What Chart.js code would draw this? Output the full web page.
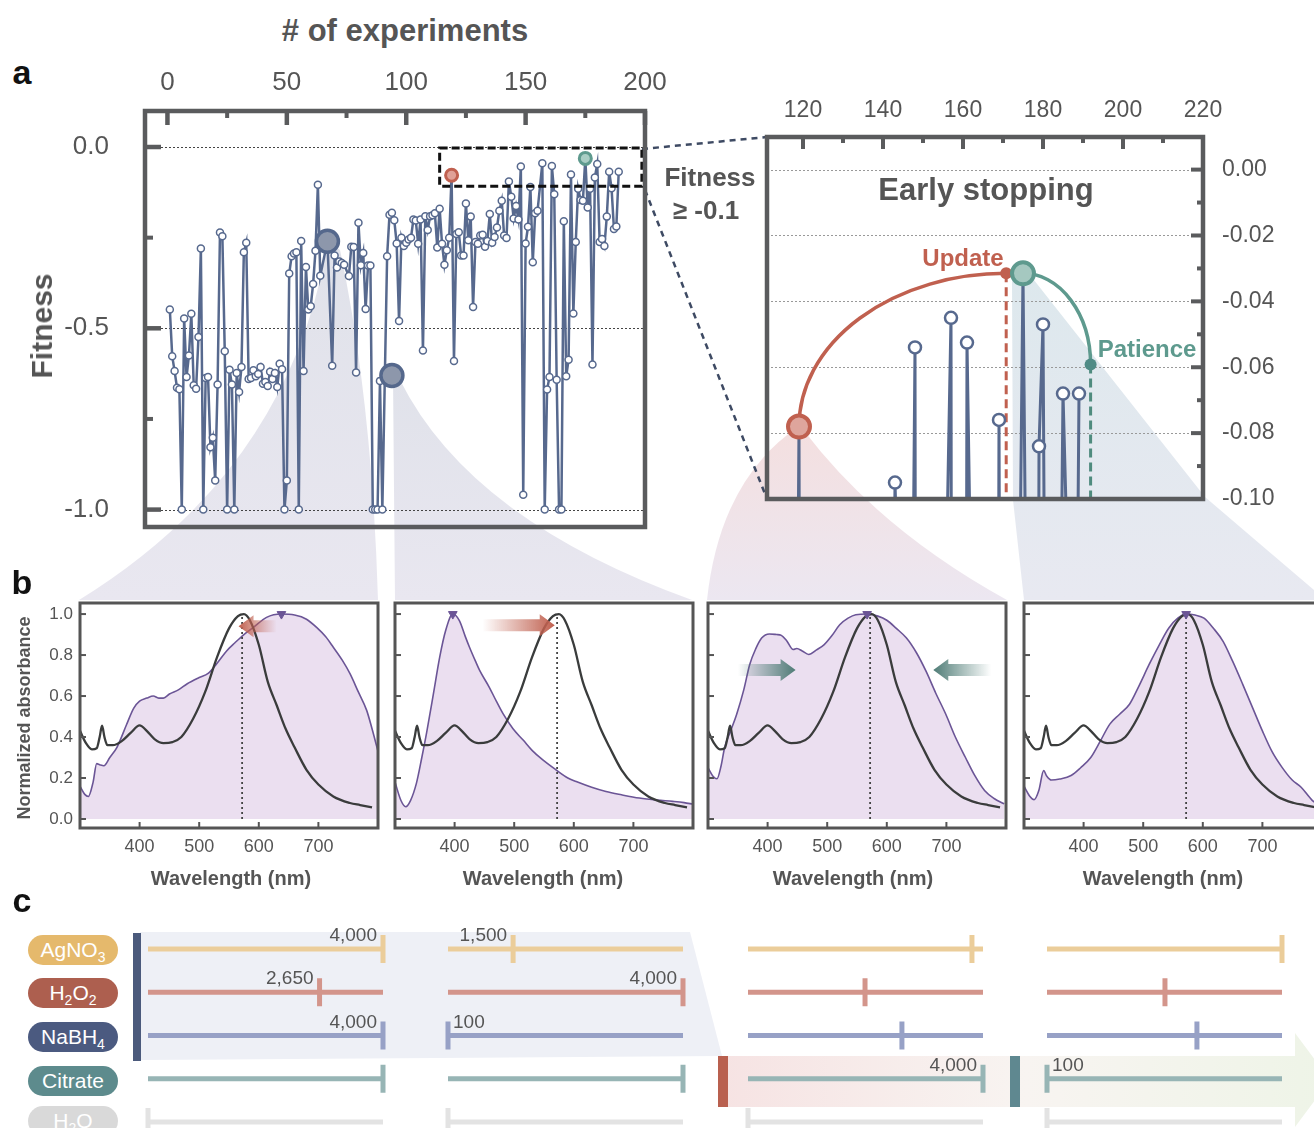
<!DOCTYPE html>
<html>
<head>
<meta charset="utf-8">
<script src="https://cdn.jsdelivr.net/npm/chart.js@4.4.1/dist/chart.umd.min.js"></script>
<style>
html, body { margin: 0; padding: 0; background: #fff; }
#page { position: relative; width: 1314px; height: 1128px; overflow: hidden; font-family: "Liberation Sans", Arial, sans-serif; color: #555; }
#page canvas { position: absolute; z-index: 2; }
#deco { position: absolute; left: 0; top: 0; z-index: 1; }
.t { position: absolute; white-space: nowrap; font-weight: bold; transform: translate(-50%, -50%); z-index: 5; }
.rot { transform: translate(-50%, -50%) rotate(-90deg); }
.pill { position: absolute; left: 28px; width: 90px; height: 30px; border-radius: 15px; color: #fff; font-size: 21px; text-align: center; line-height: 30px; z-index: 5; }
.pill sub { font-size: 14px; vertical-align: -5px; line-height: 0; }
</style>
</head>
<body>
<div id="page">
<svg id="deco" width="1314" height="1128">
  <defs>
    <linearGradient id="gGrey" x1="0" y1="0" x2="0" y2="1"><stop offset="0" stop-color="#e0e2ea"/><stop offset="1" stop-color="#e9e7f0"/></linearGradient>
    <linearGradient id="gRed" x1="0" y1="0" x2="0" y2="1"><stop offset="0" stop-color="#f4dfdf"/><stop offset="1" stop-color="#ece7f1"/></linearGradient>
    <linearGradient id="gTeal" x1="0" y1="0" x2="0" y2="1"><stop offset="0" stop-color="#dde8ed"/><stop offset="1" stop-color="#e8e9f1"/></linearGradient>
    <linearGradient id="gBand" x1="0" y1="0" x2="1" y2="0"><stop offset="0" stop-color="#f6e3e3"/><stop offset="0.5" stop-color="#f8f4f1"/><stop offset="1" stop-color="#eef4e7"/></linearGradient>
  </defs>
  <path d="M328,241 Q290,470 79,600 L378,600 Q372,400 340,250 Z" fill="url(#gGrey)"/>
  <path d="M393,376 L395,600 L692,600 Q470,520 400,380 Z" fill="url(#gGrey)"/>
  <path d="M798,427 Q720,480 707,600 L1007,600 Q880,530 805,432 Z" fill="url(#gRed)"/>
  <path d="M1012,280 L1013,500 L1024,600 L1314,600 L1314,590 L1205,497 L1030,275 Z" fill="url(#gTeal)"/>
  <line x1="642" y1="149" x2="767" y2="137" stroke="#3e4a63" stroke-width="2.5" stroke-dasharray="6,5"/>
  <line x1="645" y1="190" x2="767" y2="499" stroke="#3e4a63" stroke-width="2.5" stroke-dasharray="6,5"/>
  <polygon points="140,932 690,932 722,1056 140,1060" fill="#eef0f6"/>
  <polygon points="722,1056 1295,1056 1295,1033 1330,1080 1295,1127 1295,1107 722,1107" fill="url(#gBand)"/>
  <rect x="133" y="933" width="8" height="128" fill="#4b5a7c"/>
  <rect x="718" y="1056" width="10" height="51" fill="#b9604f"/>
  <rect x="1010" y="1056" width="10" height="51" fill="#5f8890"/>
</svg>

<div class="t" style="left:22px;top:72px;font-size:34px;color:#111">a</div>
<div class="t" style="left:22px;top:582px;font-size:34px;color:#111">b</div>
<div class="t" style="left:22px;top:900px;font-size:34px;color:#111">c</div>
<div class="t" style="left:405px;top:31px;font-size:31px"># of experiments</div>
<div class="t rot" style="left:42px;top:326px;font-size:30px">Fitness</div>
<div class="t" style="left:710px;top:177px;font-size:26px">Fitness</div>
<div class="t" style="left:706px;top:210px;font-size:26px">≥ -0.1</div>
<div class="t" style="left:986px;top:190px;font-size:31px">Early stopping</div>
<div class="t" style="left:963px;top:258px;font-size:24px;color:#c0604f">Update</div>
<div class="t" style="left:1147px;top:349px;font-size:24px;color:#5e9a8e">Patience</div>
<div class="t rot" style="left:24px;top:718px;font-size:18px">Normalized absorbance</div>
<div class="t" style="left:231px;top:878px;font-size:20px">Wavelength (nm)</div>
<div class="t" style="left:543px;top:878px;font-size:20px">Wavelength (nm)</div>
<div class="t" style="left:853px;top:878px;font-size:20px">Wavelength (nm)</div>
<div class="t" style="left:1163px;top:878px;font-size:20px">Wavelength (nm)</div>

<div class="pill" style="top:935px;background:#e5b96c">AgNO<sub>3</sub></div>
<div class="pill" style="top:978px;background:#ad5f4f">H<sub>2</sub>O<sub>2</sub></div>
<div class="pill" style="top:1022px;background:#4b5a80">NaBH<sub>4</sub></div>
<div class="pill" style="top:1066px;background:#5d8b8d">Citrate</div>
<div class="pill" style="top:1106px;background:#d9d9d9">H<sub>2</sub>O</div>
</div>

<script>
// ---- panel a: fitness per experiment ----
const experiments = [1,2,3,4,5,6,7,8,9,10,11,12,13,14,15,16,17,18,19,20,21,22,23,24,25,26,27,28,29,30,
  31,32,33,34,35,36,37,38,39,40,41,42,43,44,45,46,47,48,49,50,51,52,53,54,55,56,57,58,59,60,
  61,62,63,64,67,69,70,71,72,73,74,76,77,78,79,80,81,82,83,84,85,86,87,88,89,90,
  92,93,94,95,96,97,98,99,100,101,102,103,104,105,106,107,108,109,110,111,112,113,114,115,116,117,118,119,120,
  121,122,123,124,125,126,127,128,129,130,131,132,133,134,135,136,137,138,139,140,141,142,143,144,145,146,147,148,149,150,
  151,152,153,154,155,157,158,159,160,161,162,163,164,165,166,167,168,169,170,171,172,173,174,175,176,177,178,179,180,
  181,182,183,184,185,186,187,188,189];
const fitness = [-0.448,-0.577,-0.618,-0.664,-0.668,-1.0,-0.473,-0.634,-0.575,-0.46,-0.657,-0.667,-0.524,-0.28,-1.0,-0.637,-0.634,-0.828,-0.802,-0.92,-0.655,-0.236,-0.246,-0.563,-1.0,-0.614,-0.655,-1.0,-0.623,-0.676,
  -0.607,-0.29,-0.264,-0.64,-0.637,-0.616,-0.632,-0.626,-0.607,-0.653,-0.648,-0.659,-0.62,-0.64,-0.623,-0.662,-0.598,-0.613,-1.0,-0.92,-0.349,-0.301,-0.294,-0.29,-1.0,-0.259,-0.618,-0.331,-0.448,-0.439,
  -0.378,-0.286,-0.104,-0.355,-0.26,-0.603,-0.299,-0.332,-0.316,-0.32,-0.325,-0.356,-0.275,-0.276,-0.622,-0.209,-0.326,-0.292,-0.447,-0.327,-0.327,-1.0,-1.0,-1.0,-0.645,-1.0,
  -0.301,-0.187,-0.181,-0.202,-0.266,-0.48,-0.25,-0.273,-0.264,-0.255,-0.25,-0.2,-0.203,-0.267,-0.2,-0.561,-0.191,-0.229,-0.191,-0.188,-0.183,-0.277,-0.17,-0.267,-0.325,-0.285,-0.25,-0.078,-0.59,
  -0.24,-0.235,-0.299,-0.299,-0.156,-0.257,-0.192,-0.441,-0.262,-0.267,-0.244,-0.242,-0.275,-0.259,-0.185,-0.264,-0.248,-0.222,-0.176,-0.148,-0.244,-0.251,-0.095,-0.137,-0.197,-0.163,-0.2,-0.054,-0.959,-0.266,
  -0.22,-0.11,-0.318,-0.183,-0.176,-0.045,-1.0,-0.669,-0.634,-0.0525,-0.13,-0.642,-1.0,-1.0,-0.205,-0.632,-0.587,-0.076,-0.459,-0.262,-0.115,-0.146,-0.148,-0.0315,-0.167,-0.115,-0.6,-0.084,-0.047,
  -0.262,-0.254,-0.273,-0.192,-0.068,-0.114,-0.226,-0.219,-0.068];

const spectraExp = [67, 94];         // runs shown in panel b (large grey markers)
const spectraFit = [-0.26, -0.63];
const bestExp = [119, 175];          // red = update start, teal = best
const bestFit = [-0.078, -0.0315];
const boxExp = [114, 198.7];         // "Fitness >= -0.1" window
const boxFit = [-0.003, -0.108];

const updatePoint = [170.8, -0.0315];
const patiencePoint = [191.9, -0.0592];

const mainXTicks = [0, 50, 100, 150, 200];
const mainYTicks = [0, -0.5, -1.0];
const zoomXTicks = [120, 140, 160, 180, 200, 220];
const zoomYTicks = [0, -0.02, -0.04, -0.06, -0.08, -0.10];

// ---- panel b: UV-vis spectra ----
const targetNm  = [300,310,320,328,333,337,341,346,355,370,385,400,412,425,440,455,470,490,510,530,550,565,575,585,600,615,630,645,660,680,700,725,753,770,790];
const targetAbs = [0.43,0.37,0.34,0.345,0.40,0.455,0.40,0.36,0.36,0.38,0.42,0.457,0.43,0.39,0.37,0.375,0.40,0.49,0.62,0.79,0.93,0.99,1.0,0.97,0.85,0.67,0.555,0.44,0.35,0.24,0.168,0.11,0.078,0.068,0.057];
const run1Nm  = [300,308,314,322,328,333,340,350,362,378,390,400,412,423,432,440,450,465,480,500,515,530,546,560,575,591,613,638,660,680,697,712,725,740,753,767,781,790,800];
const run1Abs = [0.16,0.12,0.11,0.18,0.27,0.265,0.26,0.30,0.35,0.46,0.54,0.575,0.59,0.60,0.59,0.59,0.61,0.63,0.66,0.69,0.71,0.76,0.82,0.86,0.90,0.935,0.984,1.0,0.995,0.975,0.935,0.89,0.838,0.775,0.709,0.62,0.53,0.44,0.33];
const run2Nm  = [300,310,318,326,336,345,353,365,375,385,397,408,418,425,435,442,458,470,481,498,515,530,548,570,590,604,630,654,680,710,740,766,785,800];
const run2Abs = [0.18,0.09,0.06,0.09,0.175,0.30,0.42,0.62,0.79,0.92,1.0,0.968,0.89,0.838,0.77,0.725,0.644,0.575,0.515,0.44,0.385,0.335,0.288,0.24,0.20,0.183,0.155,0.134,0.118,0.102,0.092,0.086,0.08,0.072];
const run3Nm  = [300,308,315,322,328,338,348,360,370,380,390,403,415,423,432,443,449,458,469,482,495,508,521,535,548,567,585,600,616,633,650,666,682,699,715,732,748,764,780,797];
const run3Abs = [0.25,0.21,0.196,0.26,0.35,0.43,0.51,0.63,0.754,0.83,0.883,0.903,0.90,0.896,0.87,0.827,0.832,0.82,0.803,0.825,0.851,0.895,0.948,0.98,0.997,1.0,0.99,0.97,0.93,0.883,0.81,0.72,0.615,0.511,0.40,0.30,0.21,0.139,0.10,0.074];
const run4Nm  = [300,310,317,325,333,338,346,360,379,395,412,428,444,460,477,493,510,527,543,558,572,587,602,618,634,650,667,684,700,716,733,750,765,784,800];
const run4Abs = [0.16,0.11,0.094,0.14,0.236,0.21,0.19,0.195,0.212,0.25,0.30,0.38,0.463,0.51,0.56,0.65,0.754,0.85,0.932,0.98,1.0,0.995,0.98,0.93,0.867,0.77,0.657,0.54,0.43,0.33,0.252,0.19,0.155,0.09,0.06];
const runPeakNm = [638, 397, 567, 572];
const targetPeakNm = 572;
const wlTicks = [400, 500, 600, 700];
const absTicks = [0, 0.2, 0.4, 0.6, 0.8, 1.0];

// ---- panel c: reagent settings (relative position on each slider) ----
const reagents = ['AgNO3', 'H2O2', 'NaBH4', 'Citrate', 'H2O'];
const setting1 = [1.0, 0.73, 1.0, 1.0, 0];
const setting2 = [0.277, 1.0, 0, 1.0, 0];
const setting3 = [0.953, 0.498, 0.655, 1.0, 0];
const setting4 = [1.0, 0.502, 0.638, 0, 0];
const settingText1 = ['4,000', '2,650', '4,000', '', ''];
const settingText2 = ['1,500', '4,000', '100', '', ''];
const settingText3 = ['', '', '', '4,000', ''];
const settingText4 = ['', '', '', '100', ''];

Chart.defaults.font.family = '"Liberation Sans", Arial, sans-serif';
Chart.defaults.color = '#555';
Chart.defaults.animation = false;
Chart.defaults.responsive = false;
Chart.defaults.events = [];
Chart.defaults.plugins.legend.display = false;
Chart.defaults.plugins.tooltip.enabled = false;

const page = document.getElementById('page');
function addCanvas(left, top, w, h) {
  const c = document.createElement('canvas');
  c.width = w; c.height = h;
  c.style.left = left + 'px'; c.style.top = top + 'px';
  c.style.width = w + 'px'; c.style.height = h + 'px';
  page.appendChild(c);
  return c;
}
const pts = (xs, ys) => xs.map((x, i) => ({ x: x, y: ys[i] }));
const fixTicks = vals => s => { s.ticks = vals.map(v => ({ value: v })); };
const noGrid = { display: false, drawTicks: false };

// frame + inward tick marks + dotted grid
function framePlugin(spec) {
  return {
    id: 'frame',
    beforeDatasetsDraw(chart) {
      const a = chart.chartArea, ctx = chart.ctx;
      if (!spec.grid) return;
      ctx.save();
      ctx.strokeStyle = spec.grid.color; ctx.lineWidth = 1; ctx.setLineDash([2, 2]);
      spec.grid.values.forEach(v => {
        const p = Math.round(chart.scales.y.getPixelForValue(v)) + 0.5;
        ctx.beginPath(); ctx.moveTo(a.left, p); ctx.lineTo(a.right, p); ctx.stroke();
      });
      ctx.restore();
    },
    afterDraw(chart) {
      const a = chart.chartArea, ctx = chart.ctx;
      ctx.save();
      ctx.strokeStyle = spec.color;
      spec.ticks.forEach(t => {
        const sc = chart.scales[t.axis];
        ctx.lineWidth = t.width;
        t.values.forEach(v => {
          const p = sc.getPixelForValue(v);
          ctx.beginPath();
          if (t.side === 'top') { ctx.moveTo(p, a.top); ctx.lineTo(p, a.top + t.len); }
          else if (t.side === 'bottom') { ctx.moveTo(p, a.bottom); ctx.lineTo(p, a.bottom - t.len); }
          else if (t.side === 'left') { ctx.moveTo(a.left, p); ctx.lineTo(a.left + t.len, p); }
          else { ctx.moveTo(a.right, p); ctx.lineTo(a.right - t.len, p); }
          ctx.stroke();
        });
      });
      ctx.lineWidth = spec.width;
      ctx.strokeRect(a.left, a.top, a.right - a.left, a.bottom - a.top);
      ctx.restore();
    }
  };
}

// ---------- panel a, main ----------
// canvas is bigger than the plot so the label padding Chart.js reserves fits inside the margins
new Chart(addCanvas(50, 50, 640, 540), {
  type: 'line',
  data: { datasets: [
    { type: 'scatter', data: pts(spectraExp, spectraFit), pointRadius: 11, pointBackgroundColor: '#8d97ab', pointBorderColor: '#55688c', pointBorderWidth: 3.5 },
    { type: 'scatter', data: [{ x: bestExp[0], y: bestFit[0] }], pointRadius: 6, pointBackgroundColor: '#e0a197', pointBorderColor: '#c0604f', pointBorderWidth: 3 },
    { type: 'scatter', data: [{ x: bestExp[1], y: bestFit[1] }], pointRadius: 6, pointBackgroundColor: '#a9cdc4', pointBorderColor: '#5e9a8e', pointBorderWidth: 3 },
    { data: pts(experiments, fitness), borderColor: '#57698e', borderWidth: 2.5, pointRadius: 3.5,
      pointBackgroundColor: '#fff', pointBorderColor: '#57698e', pointBorderWidth: 1.5 }
  ]},
  options: {
    layout: { padding: { left: 0, right: 45, top: 0, bottom: 63 }, autoPadding: false },
    scales: {
      x: { type: 'linear', position: 'top', min: -9.4, max: 200, grid: noGrid, border: { display: false },
           afterBuildTicks: fixTicks(mainXTicks), afterFit: s => { s.height = 61; },
           ticks: { font: { size: 26 }, color: '#555', padding: 13, maxRotation: 0, autoSkip: false } },
      y: { type: 'linear', min: -1.048, max: 0.0993, grid: noGrid, border: { display: false },
           afterBuildTicks: fixTicks(mainYTicks), afterFit: s => { s.width = 95; },
           ticks: { font: { size: 26 }, color: '#555', padding: 36, autoSkip: false, callback: v => v.toFixed(1) } }
    }
  },
  plugins: [
    framePlugin({ color: '#5a5b5d', width: 4.5, grid: { color: '#444', values: mainYTicks },
      ticks: [
        { axis: 'x', side: 'top', values: mainXTicks, len: 14, width: 4.5 },
        { axis: 'x', side: 'top', values: [25, 75, 125, 175], len: 7, width: 4 },
        { axis: 'y', side: 'left', values: mainYTicks, len: 16, width: 4.5 },
        { axis: 'y', side: 'left', values: [-0.25, -0.75], len: 8, width: 4 }
      ] }),
    { id: 'box', afterDatasetsDraw(chart) {
        const x = chart.scales.x, y = chart.scales.y, ctx = chart.ctx;
        const x0 = x.getPixelForValue(boxExp[0]), x1 = x.getPixelForValue(boxExp[1]);
        const y0 = y.getPixelForValue(boxFit[0]), y1 = y.getPixelForValue(boxFit[1]);
        ctx.save(); ctx.strokeStyle = '#111'; ctx.lineWidth = 3; ctx.setLineDash([8, 4]);
        ctx.strokeRect(x0, y0, x1 - x0, y1 - y0); ctx.restore();
    } }
  ]
});

// ---------- panel a, early stopping zoom ----------
new Chart(addCanvas(750, 80, 564, 460), {
  type: 'line',
  data: { datasets: [
    { type: 'scatter', data: [{ x: bestExp[0], y: bestFit[0] }], pointRadius: 11, pointBackgroundColor: '#dea59c', pointBorderColor: '#c0604f', pointBorderWidth: 4 },
    { type: 'scatter', data: [{ x: bestExp[1], y: bestFit[1] }], pointRadius: 11, pointBackgroundColor: '#a5c8c0', pointBorderColor: '#5e9a8e', pointBorderWidth: 4 },
    { type: 'scatter', data: [{ x: updatePoint[0], y: updatePoint[1] }], pointRadius: 6, pointBackgroundColor: '#c0604f', pointBorderWidth: 0 },
    { type: 'scatter', data: [{ x: patiencePoint[0], y: patiencePoint[1] }], pointRadius: 6, pointBackgroundColor: '#4f8b86', pointBorderWidth: 0 },
    { data: pts(experiments, fitness), borderColor: '#57698e', borderWidth: 3, pointRadius: 6,
      pointBackgroundColor: '#fff', pointBorderColor: '#57698e', pointBorderWidth: 2.5 }
  ]},
  options: {
    layout: { padding: { left: 17, right: 0, top: 0, bottom: 41 }, autoPadding: false },
    scales: {
      x: { type: 'linear', position: 'top', min: 111, max: 220, grid: noGrid, border: { display: false },
           afterBuildTicks: fixTicks(zoomXTicks), afterFit: s => { s.height = 57; },
           ticks: { font: { size: 23 }, color: '#555', padding: 13, maxRotation: 0, autoSkip: false } },
      y: { type: 'linear', position: 'right', min: -0.1, max: 0.0099, grid: noGrid, border: { display: false },
           afterBuildTicks: fixTicks(zoomYTicks), afterFit: s => { s.width = 111; },
           ticks: { font: { size: 23 }, color: '#555', padding: 19, autoSkip: false, callback: v => v.toFixed(2) } }
    }
  },
  plugins: [
    framePlugin({ color: '#5a5b5d', width: 4.5, grid: { color: '#999', values: [0, -0.02, -0.04, -0.06, -0.08] },
      ticks: [
        { axis: 'x', side: 'top', values: zoomXTicks, len: 12, width: 4 },
        { axis: 'x', side: 'top', values: [130, 150, 170, 190, 210], len: 6, width: 4 },
        { axis: 'y', side: 'right', values: zoomYTicks, len: 12, width: 4 },
        { axis: 'y', side: 'right', values: [-0.01, -0.03, -0.05, -0.07, -0.09], len: 6, width: 4 }
      ] }),
    { id: 'earlyStop', beforeDatasetsDraw(chart) {
        const x = chart.scales.x, y = chart.scales.y, ctx = chart.ctx, a = chart.chartArea;
        const s = { x: x.getPixelForValue(bestExp[0]), y: y.getPixelForValue(bestFit[0]) };
        const u = { x: x.getPixelForValue(updatePoint[0]), y: y.getPixelForValue(updatePoint[1]) };
        const b = { x: x.getPixelForValue(bestExp[1]), y: y.getPixelForValue(bestFit[1]) };
        const p = { x: x.getPixelForValue(patiencePoint[0]), y: y.getPixelForValue(patiencePoint[1]) };
        ctx.save();
        ctx.lineWidth = 3; ctx.setLineDash([9, 5]);
        ctx.strokeStyle = '#c0604f';
        ctx.beginPath(); ctx.moveTo(u.x, u.y); ctx.lineTo(u.x, a.bottom); ctx.stroke();
        ctx.strokeStyle = '#4f8b7e';
        ctx.beginPath(); ctx.moveTo(p.x, p.y); ctx.lineTo(p.x, a.bottom); ctx.stroke();
        ctx.setLineDash([]); ctx.lineWidth = 3.5;
        ctx.strokeStyle = '#c0604f';
        ctx.beginPath(); ctx.ellipse(u.x, s.y, u.x - s.x, s.y - u.y, 0, Math.PI, 1.5 * Math.PI); ctx.stroke();
        ctx.strokeStyle = '#5e9a8e';
        ctx.beginPath(); ctx.ellipse(b.x, p.y, p.x - b.x, p.y - b.y, 0, 1.5 * Math.PI, 2 * Math.PI); ctx.stroke();
        ctx.restore();
    } }
  ]
});

// ---------- panel b ----------
function arrow(ctx, x0, x1, y, rgb) {
  const dir = Math.sign(x1 - x0), head = 15, hh = 11, sh = 6;
  const g = ctx.createLinearGradient(x0, 0, x1, 0);
  g.addColorStop(0, 'rgba(' + rgb + ',0)');
  g.addColorStop(1, 'rgba(' + rgb + ',1)');
  ctx.fillStyle = g;
  ctx.beginPath();
  ctx.moveTo(x0, y - sh); ctx.lineTo(x1 - dir * head, y - sh); ctx.lineTo(x1 - dir * head, y - hh);
  ctx.lineTo(x1, y); ctx.lineTo(x1 - dir * head, y + hh); ctx.lineTo(x1 - dir * head, y + sh);
  ctx.lineTo(x0, y + sh); ctx.closePath(); ctx.fill();
}

function spectrumChart(areaLeft, nm, abs, peak, arrows, withAxis) {
  const axisW = withAxis ? 55 : 0;
  const padL = withAxis ? 0 : 8;
  const c = addCanvas(areaLeft - axisW - padL, 583, axisW + padL + 298 + 8, 289);
  new Chart(c, {
    type: 'line',
    data: { datasets: [
      { type: 'scatter', data: [{ x: peak, y: 1.0 }], pointStyle: 'triangle', pointRotation: 180, pointRadius: 5,
        pointBackgroundColor: '#6b5596', pointBorderColor: '#6b5596', clip: false },
      { data: [{ x: targetPeakNm, y: 0 }, { x: targetPeakNm, y: 1.0 }], borderColor: '#444', borderWidth: 1.8,
        borderDash: [2, 3], pointRadius: 0 },
      { data: pts(targetNm, targetAbs), borderColor: '#3a3c3c', borderWidth: 2.3, pointRadius: 0, cubicInterpolationMode: 'monotone' },
      { data: pts(nm, abs), borderColor: '#6b5596', borderWidth: 1.6, pointRadius: 0, cubicInterpolationMode: 'monotone',
        fill: 'origin', backgroundColor: '#ebdff0' }
    ]},
    options: {
      layout: { padding: { left: padL, right: 8, top: 20, bottom: 4 }, autoPadding: false },
      scales: {
        x: { type: 'linear', min: 300, max: 800, grid: noGrid, border: { display: false },
             afterBuildTicks: fixTicks(wlTicks), afterFit: s => { s.height = 40; },
             ticks: { font: { size: 18 }, color: '#555', padding: 8, maxRotation: 0, autoSkip: false } },
        y: { type: 'linear', min: -0.044, max: 1.054, display: withAxis, grid: noGrid, border: { display: false },
             afterBuildTicks: fixTicks(absTicks), afterFit: s => { s.width = axisW; },
             ticks: { font: { size: 17 }, color: '#555', padding: 7, autoSkip: false, callback: v => v.toFixed(1) } }
      }
    },
    plugins: [
      framePlugin({ color: '#555', width: 3,
        ticks: [
          { axis: 'x', side: 'bottom', values: wlTicks, len: 6, width: 2 },
          { axis: 'y', side: 'left', values: absTicks, len: 6, width: 2 }
        ] }),
      { id: 'arrows', afterDatasetsDraw(chart) {
          const x = chart.scales.x, y = chart.scales.y, ctx = chart.ctx;
          ctx.save();
          arrows.forEach(ar => arrow(ctx, x.getPixelForValue(ar[0]), x.getPixelForValue(ar[1]), y.getPixelForValue(ar[2]), ar[3]));
          ctx.restore();
      } }
    ]
  });
}
spectrumChart(80, run1Nm, run1Abs, runPeakNm[0], [[630, 566, 0.94, '192,96,79']], true);
spectrumChart(395, run2Nm, run2Abs, runPeakNm[1], [[447, 568, 0.946, '192,96,79']], false);
spectrumChart(708, run3Nm, run3Abs, runPeakNm[2], [[350, 447, 0.727, '79,124,118'], [775, 678, 0.727, '79,124,118']], false);
spectrumChart(1024, run4Nm, run4Abs, runPeakNm[3], [], false);

// ---------- panel c ----------
const rowColors = ['#ebcd9a', '#d3958b', '#97a1c6', '#97b5b5', '#e3e3e3'];
function settingChart(areaLeft, pos, texts) {
  const c = addCanvas(areaLeft - 20, 920, 275, 210);
  const ds = [];
  pos.forEach((p, r) => ds.push({ type: 'scatter', data: [{ x: p, y: r }], pointStyle: 'line', pointRotation: 90,
    pointRadius: 14, pointBorderWidth: 5, pointBorderColor: rowColors[r], pointBackgroundColor: rowColors[r], clip: false }));
  reagents.forEach((name, r) => ds.push({ data: [{ x: 0, y: r }, { x: 1, y: r }], borderColor: rowColors[r],
    borderWidth: 5, pointRadius: 0, clip: false }));
  new Chart(c, {
    type: 'line',
    data: { datasets: ds },
    options: {
      layout: { padding: { left: 20, right: 20, top: 29, bottom: 8 }, autoPadding: false },
      scales: {
        x: { type: 'linear', display: false, min: 0, max: 1 },
        y: { type: 'linear', display: false, min: 0, max: 4, reverse: true }
      }
    },
    plugins: [{ id: 'values', afterDatasetsDraw(chart) {
      const x = chart.scales.x, y = chart.scales.y, ctx = chart.ctx;
      ctx.save();
      ctx.font = '19px "Liberation Sans", Arial, sans-serif';
      ctx.fillStyle = '#555'; ctx.textBaseline = 'middle';
      texts.forEach((t, r) => {
        if (!t) return;
        const px = x.getPixelForValue(pos[r]), py = y.getPixelForValue(r) - 13;
        if (pos[r] === 0) { ctx.textAlign = 'left'; ctx.fillText(t, px + 5, py); }
        else { ctx.textAlign = 'right'; ctx.fillText(t, px - 6, py); }
      });
      ctx.restore();
    } }]
  });
}
settingChart(148, setting1, settingText1);
settingChart(448, setting2, settingText2);
settingChart(748, setting3, settingText3);
settingChart(1047, setting4, settingText4);
</script>
</body>
</html>
